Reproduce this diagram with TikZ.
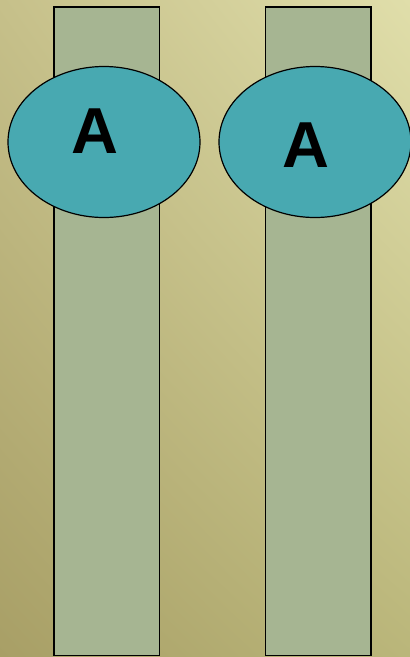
\documentclass[tikz,border=0pt]{standalone}
\usepackage{fontspec}
\setmainfont{Liberation Sans}
\usetikzlibrary{shapes.geometric,shadings}
\definecolor{bgUL}{HTML}{C6C08A}
\definecolor{bgUR}{HTML}{E0DEAA}
\definecolor{bgLL}{HTML}{A89F66}
\definecolor{bgLR}{HTML}{BAB67A}
\definecolor{barfill}{HTML}{A6B592}
\definecolor{discfill}{HTML}{48A9B1}
\tikzset{
  bar/.style={draw=black, line width=1.2pt, fill=barfill},
  disc/.style={draw=black, line width=1.2pt, fill=discfill},
  letter/.style={font=\fontsize{65}{65}\selectfont\bfseries, text=black, inner sep=0pt}
}
\begin{document}
\begin{tikzpicture}[x=1pt,y=-1pt]
  \useasboundingbox (0,0) rectangle (410,657);
  \shade[upper left=bgUL, upper right=bgUR, lower left=bgLL, lower right=bgLR] (0,0) rectangle (410,657);
  % two vertical bars
  \draw[bar] (54,7) rectangle (159.5,655.5);
  \draw[bar] (265.5,7) rectangle (371,655.5);
  % discs with letters
  \draw[disc] (104,142) ellipse [x radius=96, y radius=75.5];
  \draw[disc] (315,142) ellipse [x radius=96, y radius=75.5];
  \node[letter, anchor=base] (a1) at (94.5,153) {A};
  \node[letter, anchor=base] (a2) at (306,167) {A};
\end{tikzpicture}
\end{document}
